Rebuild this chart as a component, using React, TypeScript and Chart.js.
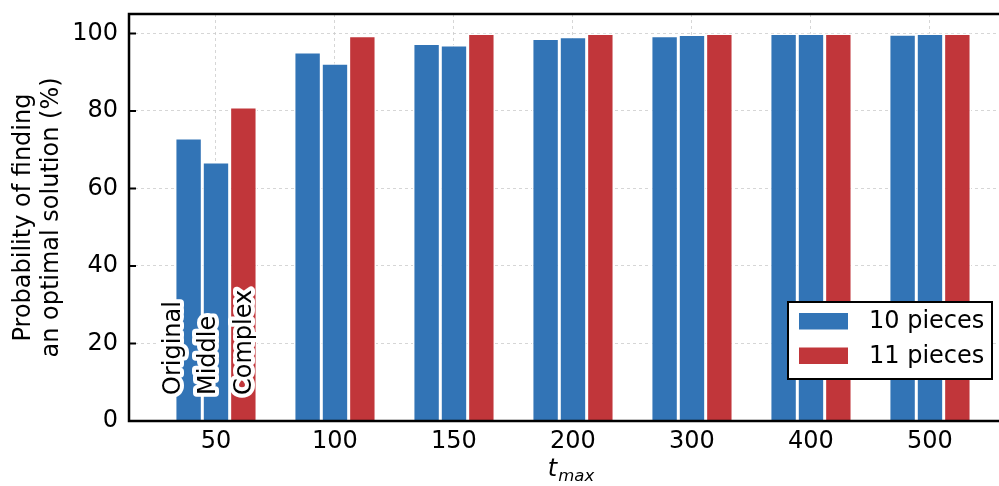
import React, { useEffect, useRef } from 'react';
import { Chart, registerables } from 'chart.js';

Chart.register(...registerables);

const categories = ['50', '100', '150', '200', '300', '400', '500'];
const original = [73.0, 95.2, 97.4, 98.7, 99.4, 100, 99.8];
const middle = [66.8, 92.3, 97.0, 99.1, 99.7, 100, 100];
const complex = [81.0, 99.4, 100, 100, 100, 100, 100];
const seriesNames = ['Original', 'Middle', 'Complex'];
const legendLabels = ['10 pieces', '11 pieces'];
const yTicks = [0, 20, 40, 60, 80, 100];
const yTitle = ['Probability of finding', 'an optimal solution (%)'];

const BLUE = '#3274B6';
const RED = '#C1363A';
const FONT = 'DejaVu Sans';
const FS = 24;

export default function App() {
  const ref = useRef<HTMLCanvasElement>(null);

  useEffect(() => {
    document.body.style.margin = '0';
    const canvas = ref.current!;
    const toPts = (arr: number[]) => arr.map((y, i) => ({ x: i, y }));

    const deco = {
      id: 'deco',
      afterDraw(chart: any) {
        const { ctx, chartArea, scales } = chart;
        const xs = scales.x;
        const ys = scales.y;
        const L = chartArea.left, T = chartArea.top, B = chartArea.bottom, R = chartArea.right;

        // rotated annotations on first group
        const offsets = [-9, -1, 8];
        seriesNames.forEach((name, d) => {
          const bar = chart.getDatasetMeta(d).data[0];
          ctx.save();
          ctx.translate(bar.x + offsets[d], ys.getPixelForValue(0) - 26);
          ctx.rotate(-Math.PI / 2);
          ctx.font = `${FS}px "${FONT}"`;
          ctx.textAlign = 'left';
          ctx.textBaseline = 'alphabetic';
          ctx.lineJoin = 'round';
          ctx.lineWidth = 8;
          ctx.strokeStyle = '#ffffff';
          ctx.strokeText(name, 0, 0);
          ctx.fillStyle = '#000000';
          ctx.fillText(name, 0, 0);
          ctx.restore();
        });

        ctx.save();
        // spines
        ctx.strokeStyle = '#000';
        ctx.lineWidth = 2.5;
        ctx.beginPath();
        ctx.moveTo(L, T);
        ctx.lineTo(L, B);
        ctx.moveTo(L - 1.25, T);
        ctx.lineTo(R, T);
        ctx.moveTo(L - 1.25, B);
        ctx.lineTo(R, B);
        ctx.stroke();
        // inward y ticks
        ctx.lineWidth = 2;
        ctx.beginPath();
        yTicks.forEach((v) => {
          const py = ys.getPixelForValue(v);
          ctx.moveTo(L, py);
          ctx.lineTo(L + 7, py);
        });
        ctx.stroke();

        // x title t_max
        const cx = xs.getPixelForValue(3) - 2;
        ctx.fillStyle = '#000';
        ctx.textBaseline = 'alphabetic';
        ctx.textAlign = 'left';
        ctx.font = `italic ${FS}px "${FONT}"`;
        const wT = ctx.measureText('t').width;
        ctx.font = `italic 16.5px "${FONT}"`;
        const wS = ctx.measureText('max').width;
        const x0 = cx - (wT + wS + 1) / 2;
        ctx.font = `italic ${FS}px "${FONT}"`;
        ctx.fillText('t', x0, 476);
        ctx.font = `italic 16.5px "${FONT}"`;
        ctx.fillText('max', x0 + wT + 1, 481);

        // legend
        const bx = 788, by = 302, bw = 204, bh = 77;
        ctx.fillStyle = '#fff';
        ctx.fillRect(bx, by, bw, bh);
        ctx.lineWidth = 2;
        ctx.strokeStyle = '#000';
        ctx.strokeRect(bx, by, bw, bh);
        const colors = [BLUE, RED];
        legendLabels.forEach((lab, i) => {
          const cy = by + 19 + i * 34.5;
          ctx.fillStyle = colors[i];
          ctx.fillRect(bx + 11, cy - 8, 49, 16.5);
          ctx.fillStyle = '#000';
          ctx.font = `${FS}px "${FONT}"`;
          ctx.textBaseline = 'middle';
          ctx.fillText(lab, bx + 81, cy + 1);
        });
        ctx.restore();
      },
    };

    const gridOpts = { color: '#cccccc', lineWidth: 0.8, drawTicks: false, offset: false };

    const chart = new Chart(canvas, {
      type: 'bar',
      data: {
        datasets: [
          { label: seriesNames[0], data: toPts(original), backgroundColor: BLUE, borderColor: '#ffffff', borderWidth: 1.5 },
          { label: seriesNames[1], data: toPts(middle), backgroundColor: BLUE, borderColor: '#ffffff', borderWidth: 1.5 },
          { label: seriesNames[2], data: toPts(complex), backgroundColor: RED, borderColor: '#ffffff', borderWidth: 1.5 },
        ] as any,
      },
      options: {
        responsive: false,
        maintainAspectRatio: false,
        animation: false,
        devicePixelRatio: 1,
        layout: { padding: { top: 14, left: 0, right: 0, bottom: 0 } },
        datasets: { bar: { categoryPercentage: 0.69, barPercentage: 1.0 } } as any,
        plugins: { legend: { display: false }, tooltip: { enabled: false } },
        scales: {
          x: {
            type: 'linear',
            offset: false,
            min: -0.731,
            max: 6.58,
            afterBuildTicks: (s: any) => {
              s.ticks = categories.map((_, i) => ({ value: i }));
            },
            afterFit: (s: any) => {
              s.height = 65;
              s.paddingLeft = 0;
              s.paddingRight = 0;
            },
            ticks: {
              callback: (v: any) => categories[v] ?? '',
              font: { size: FS, family: FONT },
              color: '#000',
              padding: 6,
              maxRotation: 0,
              autoSkip: false,
            },
            grid: gridOpts,
            border: { display: false, dash: [3, 3] },
          } as any,
          y: {
            type: 'linear',
            min: 0,
            max: 105,
            afterFit: (s: any) => {
              s.width = 129;
              s.paddingTop = 0;
              s.paddingBottom = 0;
            },
            ticks: {
              stepSize: 20,
              includeBounds: false,
              font: { size: FS, family: FONT },
              color: '#000',
              padding: 11,
            },
            title: {
              display: true,
              text: yTitle,
              font: { size: FS, family: FONT, lineHeight: 1.2 },
              color: '#000',
              padding: { top: 9, bottom: 0 },
            },
            grid: gridOpts,
            border: { display: false, dash: [3, 3] },
          } as any,
        },
      },
      plugins: [deco],
    });

    return () => chart.destroy();
  }, []);

  return (
    <div style={{ width: 999, height: 486, overflow: 'hidden' }}>
      <canvas ref={ref} width={999} height={486} style={{ display: 'block', width: 999, height: 486 }} />
    </div>
  );
}
